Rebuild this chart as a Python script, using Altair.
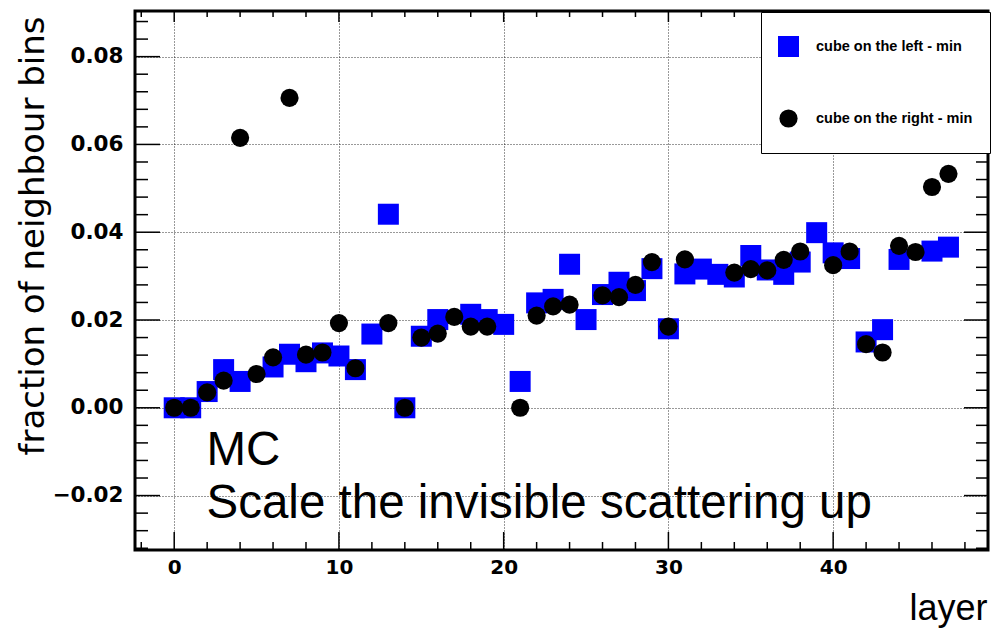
import altair as alt
import pandas as pd

# ---------------- data ----------------
layers = list(range(48))

left_min = [0.0, 0.0, 0.0037, 0.0087, 0.0060, None, 0.0093, 0.0122, 0.0105, 0.0125,
            0.0118, 0.0087, 0.0168, 0.0441, 0.0, 0.0163, 0.0201, None, 0.0213, 0.0201,
            0.0190, 0.0060, 0.0239, 0.0247, 0.0327, 0.0201, 0.0258, 0.0286, 0.0267, 0.0317,
            0.0180, 0.0305, 0.0316, 0.0304, 0.0298, 0.0347, 0.0314, 0.0304, 0.0332, 0.0399,
            0.0353, 0.0340, 0.0150, 0.0178, 0.0338, None, 0.0357, 0.0366]

right_min = [0.0, 0.0, 0.0035, 0.0062, 0.0615, 0.0077, 0.0115, 0.0706, 0.0121, 0.0126,
             0.0193, 0.0090, None, 0.0193, 0.0, 0.0160, 0.0169, 0.0207, 0.0185, 0.0185,
             None, 0.0, 0.0210, 0.0231, 0.0235, None, 0.0256, 0.0252, 0.0280, 0.0332,
             0.0185, 0.0338, None, None, 0.0308, 0.0316, 0.0313, 0.0337, 0.0356, None,
             0.0325, 0.0356, 0.0145, 0.0126, 0.0369, 0.0355, 0.0503, 0.0533]

series_names = ["cube on the left - min", "cube on the right - min"]
series_colors = ["#0000ff", "#000000"]
series_shapes = ["square", "circle"]
series_sizes = [441, 330]

x_domain = [-2.38, 49.4]
y_domain = [-0.0324, 0.0904]

x_major = [0, 10, 20, 30, 40]
x_minor = [-2, 2, 4, 6, 8, 12, 14, 16, 18, 22, 24, 26, 28, 32, 34, 36, 38, 42, 44, 46, 48]
y_major = [-0.02, 0.0, 0.02, 0.04, 0.06, 0.08]
y_minor = [-0.032, -0.028, -0.024, -0.016, -0.012, -0.008, -0.004,
           0.004, 0.008, 0.012, 0.016, 0.024, 0.028, 0.032, 0.036,
           0.044, 0.048, 0.052, 0.056, 0.064, 0.068, 0.072, 0.076, 0.084, 0.088]

annot_text = ["MC", "Scale the invisible scattering up"]
annot_x = [1.96, 1.96]
annot_y = [-0.0131, -0.0251]

# ---------------- tables ----------------
rows = []
for name, vals in zip(series_names, [left_min, right_min]):
    for l, v in zip(layers, vals):
        rows.append({"layer": l, "value": v, "series": name})
df = pd.DataFrame(rows)

df_annot = pd.DataFrame({"x": annot_x, "y": annot_y, "t": annot_text})

W, H = 853, 539
xscale = alt.Scale(domain=x_domain, nice=False, zero=False)
yscale = alt.Scale(domain=y_domain, nice=False, zero=False)

x_axis = alt.Axis(values=x_major, format="d", labelPadding=7, labelFontSize=20,
                  title="layer", titleFont="Liberation Sans", titleFontSize=36,
                  titleAlign="right", titleBaseline="alphabetic",
                  titleX=W - 1, titleY=69)
y_axis = alt.Axis(values=y_major, format=".2f", labelPadding=12, labelFontSize=21.5,
                  title="fraction of neighbour bins", titleFont="DejaVu Sans",
                  titleFontSize=34,
                  titleAngle=-90, titleAlign="right", titleBaseline="alphabetic",
                  titleX=-92, titleY=5)

legend = alt.Legend(
    title=None, orient="none", legendX=626, legendY=1,
    padding=17, clipHeight=35, rowPadding=37, labelOffset=17,
    symbolSize=420, symbolStrokeWidth=0, strokeColor="black", fillColor="white",
    labelFont="Liberation Sans", labelFontWeight="bold", labelFontSize=14.5,
    labelColor="black", labelLimit=400, cornerRadius=0,
)

points = alt.Chart(df).mark_point(filled=True, opacity=1, strokeWidth=0).encode(
    x=alt.X("layer:Q", scale=xscale, axis=x_axis),
    y=alt.Y("value:Q", scale=yscale, axis=y_axis),
    color=alt.Color("series:N", scale=alt.Scale(domain=series_names, range=series_colors),
                    legend=legend),
    shape=alt.Shape("series:N", scale=alt.Scale(domain=series_names, range=series_shapes),
                    legend=legend),
    size=alt.Size("series:N", scale=alt.Scale(domain=series_names, range=series_sizes),
                  legend=None),
)

annot = alt.Chart(df_annot).mark_text(
    align="left", baseline="alphabetic", font="Liberation Sans", fontSize=47.5, color="black"
).encode(
    x=alt.X("x:Q", scale=xscale, axis=x_axis),
    y=alt.Y("y:Q", scale=yscale, axis=y_axis),
    text="t:N",
)


def yticks(vals, x0, x1):
    d = pd.DataFrame({"v": vals})
    return alt.Chart(d).mark_rule(color="black", strokeWidth=1.5).encode(
        y=alt.Y("v:Q", scale=yscale, axis=y_axis),
        x=alt.value(x0), x2=alt.value(x1))


def xticks(vals, y0, y1):
    d = pd.DataFrame({"v": vals})
    return alt.Chart(d).mark_rule(color="black", strokeWidth=1.5).encode(
        x=alt.X("v:Q", scale=xscale, axis=x_axis),
        y=alt.value(y0), y2=alt.value(y1))


ticks = [
    yticks(y_major, 0, 25), yticks(y_minor, 0, 13),
    yticks(y_major, W, W - 24), yticks(y_minor, W, W - 12),
    xticks(x_major, H, H - 18), xticks(x_minor, H, H - 8),
    xticks(x_major, 0, 11), xticks(x_minor, 0, 6),
]

chart = alt.layer(points, annot, *ticks).properties(
    width=W, height=H,
    padding={"left": 135, "top": 11, "right": 19, "bottom": 78},
    autosize=alt.AutoSizeParams(type="none"),
    background="white",
).configure_view(
    stroke="black", strokeWidth=3
).configure_axis(
    labelFont="DejaVu Sans", labelFontWeight="bold", labelColor="black",
    titleFontWeight="normal", titleColor="black",
    grid=True, gridDash=[1, 2], gridColor="black", gridOpacity=0.8, gridWidth=1,
    domain=False, ticks=False,
)

chart.save("out.html", embed_options={"renderer": "svg", "actions": False})
